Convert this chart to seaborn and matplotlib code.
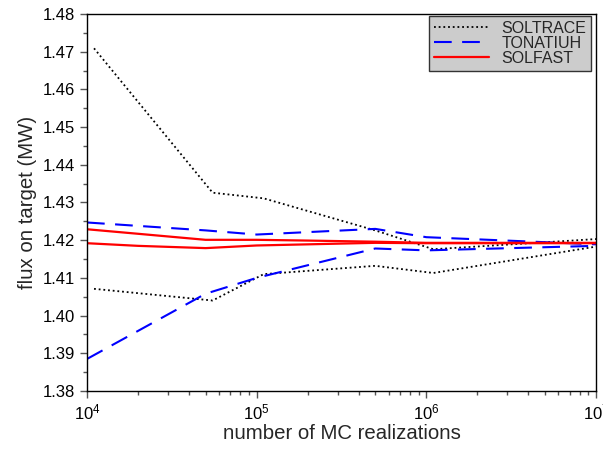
import numpy as np
import pandas as pd
import matplotlib
matplotlib.use("Agg")
import matplotlib.pyplot as plt
import matplotlib.ticker as mticker
from matplotlib.lines import Line2D
import seaborn as sns

# ---- data ----
soltrace_x = [1.1e4, 5.5e4, 1.1e5, 5e5, 1.1e6, 1e7]
soltrace_upper = [1.4709, 1.4326, 1.4311, 1.4226, 1.4176, 1.4203]
soltrace_lower = [1.4071, 1.4040, 1.4110, 1.4132, 1.4113, 1.4183]

tonatiuh_x = [1e4, 5e4, 1e5, 5e5, 1e6, 1e7]
tonatiuh_upper = [1.4247, 1.4226, 1.4215, 1.4230, 1.4208, 1.4189]
tonatiuh_lower = [1.3885, 1.4058, 1.4100, 1.4178, 1.4173, 1.4185]

solfast_x = [1e4, 2e4, 5e4, 1e5, 2e5, 5e5, 1e6, 1e7]
solfast_upper = [1.4229, 1.4217, 1.4201, 1.4201, 1.4199, 1.4196, 1.4193, 1.4193]
solfast_lower = [1.4192, 1.4185, 1.4179, 1.4186, 1.4189, 1.4193, 1.4192, 1.4192]

series_names = ["SOLTRACE", "TONATIUH", "SOLFAST"]

rows = []
for name, xs, up, lo in [("SOLTRACE", soltrace_x, soltrace_upper, soltrace_lower),
                         ("TONATIUH", tonatiuh_x, tonatiuh_upper, tonatiuh_lower),
                         ("SOLFAST", solfast_x, solfast_upper, solfast_lower)]:
    for x, y in zip(xs, up):
        rows.append({"series": name, "bound": "upper", "x": x, "y": y})
    for x, y in zip(xs, lo):
        rows.append({"series": name, "bound": "lower", "x": x, "y": y})
df = pd.DataFrame(rows)
df["unit"] = df["series"] + "_" + df["bound"]

sns.set_style("ticks")
plt.rcParams["font.family"] = ["Liberation Sans", "DejaVu Sans"]
plt.rcParams["mathtext.fontset"] = "custom"
plt.rcParams["mathtext.rm"] = "Liberation Sans"

palette = {"SOLTRACE": "black", "TONATIUH": "#0000ff", "SOLFAST": "#ff0000"}
dashes = {"SOLTRACE": (1, 1.6), "TONATIUH": (8.5, 5), "SOLFAST": ""}
widths = {"SOLTRACE": 1.3, "TONATIUH": 1.5, "SOLFAST": 1.6}

fig = plt.figure(figsize=(6.03, 4.49), dpi=100)
ax = fig.add_axes([0.1443, 0.1292, 0.8441, 0.8396])

for name in series_names:
    sub = df[df["series"] == name]
    sns.lineplot(data=sub, x="x", y="y", units="unit", estimator=None,
                 color=palette[name], linewidth=widths[name], ax=ax, legend=False,
                 sort=False)
    for ln in ax.lines[-2:]:
        if dashes[name]:
            ln.set_dashes(dashes[name])

ax.set_xscale("log")
ax.set_xlim(1e4, 1e7)
ax.set_ylim(1.38, 1.48)

ax.xaxis.set_major_locator(mticker.LogLocator(base=10, numticks=10))
ax.xaxis.set_minor_locator(mticker.LogLocator(base=10, subs=np.arange(2, 10), numticks=20))
ax.xaxis.set_minor_formatter(mticker.NullFormatter())
ax.xaxis.set_major_formatter(mticker.FuncFormatter(
    lambda v, p: r"$\mathregular{10^{%d}}$" % int(round(np.log10(v)))))
ax.yaxis.set_major_locator(mticker.MultipleLocator(0.01))
ax.yaxis.set_minor_locator(mticker.MultipleLocator(0.005))
ax.yaxis.set_major_formatter(mticker.FormatStrFormatter("%.2f"))

ax.tick_params(axis="both", which="major", length=5, width=1, color="#555555",
               labelsize=12, direction="out", top=False, right=False, labelcolor="black")
ax.tick_params(axis="both", which="minor", length=3, width=1, color="#555555",
               direction="out", top=False, right=False)
for s in ax.spines.values():
    s.set_visible(True)
    s.set_color("black")
    s.set_linewidth(1)

ax.set_xlabel("number of MC realizations", fontsize=14.7, labelpad=1)
ax.set_ylabel("flux on target (MW)", fontsize=14.7, labelpad=4)

handles = [Line2D([0], [0], color=palette[n], linewidth=widths[n],
                  dashes=dashes[n] if dashes[n] else (None, None)) for n in series_names]
for h, n in zip(handles, series_names):
    if not dashes[n]:
        h.set_linestyle("-")
leg = ax.legend(handles, series_names, loc="upper right", fontsize=11.5,
                handlelength=3.4, labelspacing=0.0, borderpad=0.3,
                handletextpad=0.8, fancybox=False, framealpha=1,
                facecolor="#cccccc", edgecolor="#333333",
                bbox_to_anchor=(591 / 603, 1 - 16 / 449),
                bbox_transform=fig.transFigure, borderaxespad=0)
leg.get_frame().set_linewidth(1)

fig.savefig("out.png", dpi=100)
